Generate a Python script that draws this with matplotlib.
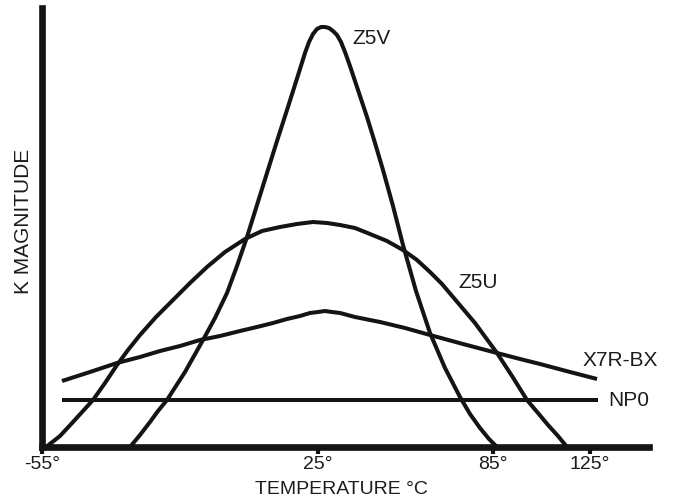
import matplotlib
matplotlib.use("Agg")
import matplotlib.pyplot as plt

# schematic diagram: x is position along the temperature axis (arbitrary units),
# y is relative K magnitude (arbitrary units), both read from the picture
tick_pos = [0, 276, 451, 548]
tick_labels = ["-55\u00b0", "25\u00b0", "85\u00b0", "125\u00b0"]

z5v_x = [88, 98, 108, 116, 125, 134, 143, 152, 161, 173, 185, 195, 205, 215, 225,
         235, 245, 252, 258, 263, 267, 271, 275, 279, 283, 287, 291, 295, 299, 303,
         308, 316, 325, 333, 341, 351, 361, 374, 388, 403, 418, 428, 438, 447, 455]
z5v_y = [0, 12, 25, 36, 47, 61, 75, 91, 107, 129, 154, 181, 210, 242, 274,
         306, 337, 359, 378, 394, 405, 413, 418, 420, 420, 419, 416, 412, 405, 395,
         381, 357, 330, 304, 277, 241, 202, 156, 114, 79, 50, 33, 19, 8, 0]

z5u_x = [4, 18, 31, 41, 51, 63, 75, 86, 98, 114, 131, 148, 165, 183, 203, 220, 238,
         255, 271, 285, 298, 313, 328, 345, 361, 375, 388, 400, 411, 422, 433, 444,
         455, 470, 485, 496, 506, 516, 525]
z5u_y = [0, 11, 25, 36, 47, 64, 82, 97, 112, 130, 147, 164, 180, 195, 208, 216, 220,
         223, 225, 224, 222, 219, 213, 206, 197, 187, 175, 163, 150, 137, 124, 109,
         94, 71, 47, 34, 22, 11, 0]

x7r_x = [20, 48, 75, 98, 118, 138, 158, 178, 198, 215, 231, 245, 258, 268, 276, 283,
         290, 298, 313, 338, 363, 388, 421, 455, 478, 498, 528, 555]
x7r_y = [66, 75, 84, 90, 96, 101, 107, 111, 116, 120, 124, 128, 131, 134, 135, 136,
         135, 134, 130, 125, 119, 112, 103, 94, 88, 83, 75, 68]

np0_x = [20, 556]
np0_y = [47, 47]

# label anchors (left edge, vertical centre)
curve_labels = {
    "Z5V": (310, 409),
    "Z5U": (416, 164),
    "X7R-BX": (541, 87),
    "NP0": (566, 47),
}

ink = "#141414"
txt = "#1c1c1c"
plt.rcParams['font.family'] = ['Liberation Sans', 'DejaVu Sans']

fig = plt.figure(figsize=(6.73, 5.0), dpi=100)
ax = fig.add_axes([42/673, 53/500, 607/673, 439/500])

lw = 2.9
for xs, ys in [(z5v_x, z5v_y), (z5u_x, z5u_y), (x7r_x, x7r_y), (np0_x, np0_y)]:
    ax.plot(xs, ys, color=ink, linewidth=lw, solid_capstyle='butt',
            solid_joinstyle='round')

for name, (lx, ly) in curve_labels.items():
    ax.text(lx, ly, name, fontsize=15, color=txt, ha='left', va='center')

ax.set_xlim(0, 607)
ax.set_ylim(0, 439)

for side in ['top', 'right']:
    ax.spines[side].set_visible(False)
for side in ['left', 'bottom']:
    ax.spines[side].set_linewidth(4.8)
    ax.spines[side].set_color(ink)
    ax.spines[side].set_capstyle('projecting')

ax.set_xticks(tick_pos)
ax.set_xticklabels(tick_labels)
ax.set_yticks([])
ax.tick_params(axis='x', direction='out', length=5, width=3, color=ink,
               pad=1.5, labelsize=14, labelcolor=txt)

ax.set_xlabel("TEMPERATURE \u00b0C", fontsize=14, color=txt)
ax.xaxis.label.set_va('center')
ax.xaxis.set_label_coords(0.494, -0.096)
ax.set_ylabel("K MAGNITUDE", fontsize=15, color=txt)
ax.yaxis.label.set_va('center')
ax.yaxis.set_label_coords(-0.03, 0.513)

fig.savefig("out.png", dpi=100)
